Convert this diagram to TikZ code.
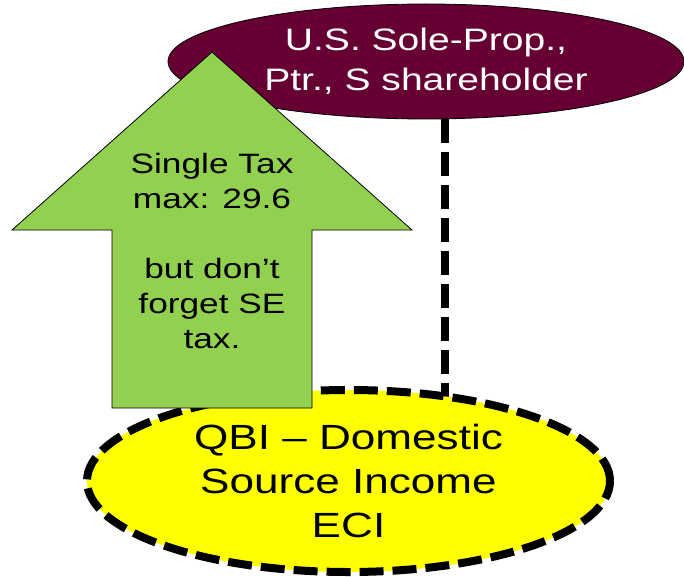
\documentclass[tikz,border=0pt]{standalone}
\usepackage{fontspec}
\setmainfont{Liberation Sans}[FakeStretch=1.26]
\usetikzlibrary{shapes.geometric,backgrounds}
\definecolor{maroon}{HTML}{660033}
\definecolor{leaf}{HTML}{92D050}
\definecolor{lemon}{HTML}{FFFF00}
\tikzset{
  bubble/.style={ellipse, inner sep=0pt, outer sep=0pt, align=center},
  heavydash/.style={line width=8pt, dash pattern=on 24pt off 9pt},
}
\begin{document}
\begin{tikzpicture}[x=1pt,y=-1pt]
\useasboundingbox (0,0) rectangle (684,577);
% top ellipse
\node[bubble, fill=maroon, draw=black, line width=0.8pt, text=white,
      minimum width=516pt, minimum height=115pt,
      font=\fontsize{31pt}{40pt}\selectfont] (sole) at (426,61.5)
      {U.S. Sole-Prop.,\\Ptr., S shareholder};
% bottom ellipse
\node[bubble, fill=lemon, draw=black, heavydash,
      minimum width=523pt, minimum height=182pt,
      font=\fontsize{35pt}{44pt}\selectfont] (qbi) at (348.5,481)
      {QBI – Domestic\\Source Income\\ECI};
% connector, behind the ellipses
\coordinate (cx) at (445,0);
\begin{scope}[on background layer]
  \draw[heavydash] (sole.south -| cx) -- (qbi.center -| cx);
\end{scope}
% green arrow
\draw[fill=leaf, draw=black, line width=0.8pt]
  (212,52) -- (412,230) -- (312,230) -- (312,408) -- (112,408) -- (112,230) -- (12,230) -- cycle;
\node[align=center, inner sep=0pt, font=\fontsize{28pt}{35pt}\selectfont] (tax) at (212,251)
  {Single Tax\\max: 29.6\\[35pt]but don’t\\forget SE\\tax.};
\end{tikzpicture}
\end{document}
